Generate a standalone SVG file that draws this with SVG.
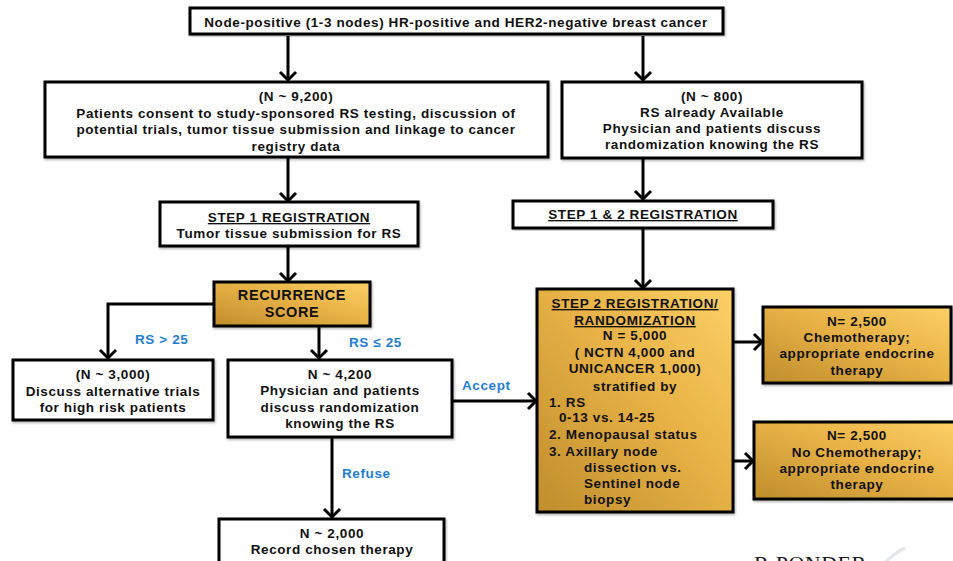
<svg xmlns="http://www.w3.org/2000/svg" width="953" height="561" viewBox="0 0 953 561">
<style>
text{font-family:"Liberation Sans",Arial,sans-serif;font-weight:bold;font-size:13.5px;letter-spacing:0.6px;fill:#111;text-anchor:middle}
.l{text-anchor:start}
.lab{fill:#1f7dd0;text-anchor:start}
.box{fill:#fff;stroke:#000;stroke-width:3}
.gold{fill:url(#g);stroke:#000;stroke-width:3}
.c{fill:none;stroke:#000;stroke-width:3}
.u{text-decoration:underline}
.big{font-size:14.5px}
</style>
<defs>
<linearGradient id="g" x1="0" y1="1" x2="1" y2="0">
<stop offset="0" stop-color="#bf8d2c"/>
<stop offset="0.55" stop-color="#e8b246"/>
<stop offset="1" stop-color="#fdd065"/>
</linearGradient>
<marker id="a" markerUnits="userSpaceOnUse" markerWidth="20" markerHeight="20" viewBox="0 0 20 20" refX="17" refY="10" orient="auto">
<path d="M9,2 L17,10 L9,18" fill="none" stroke="#000" stroke-width="3"/>
</marker>
<filter id="sh" x="-5%" y="-5%" width="110%" height="115%">
<feDropShadow dx="1" dy="1.5" stdDeviation="1" flood-color="#000" flood-opacity="0.3"/>
</filter>
</defs>

<g id="connectors">
<path class="c" d="M288,36 V80" marker-end="url(#a)"/>
<path class="c" d="M643,36 V80" marker-end="url(#a)"/>
<path class="c" d="M288,157 V201" marker-end="url(#a)"/>
<path class="c" d="M643,158 V199" marker-end="url(#a)"/>
<path class="c" d="M288,246 V281" marker-end="url(#a)"/>
<path class="c" d="M643,229 V288" marker-end="url(#a)"/>
<path class="c" d="M214,304 H108 V358" marker-end="url(#a)"/>
<path class="c" d="M319,327 V358" marker-end="url(#a)"/>
<path class="c" d="M452,401 H536" marker-end="url(#a)"/>
<path class="c" d="M332,437 V517" marker-end="url(#a)"/>
<path class="c" d="M733,342 H762" marker-end="url(#a)"/>
<path class="c" d="M733,461 H753" marker-end="url(#a)"/>
<text class="lab" x="135" y="344">RS &gt; 25</text>
<text class="lab" x="349" y="347">RS ≤ 25</text>
<text class="lab" x="462" y="390">Accept</text>
<text class="lab" x="342" y="478">Refuse</text>
</g>

<g id="n-top">
<rect class="box" x="190" y="8" width="533" height="26" filter="url(#sh)"/>
<text x="456" y="27">Node-positive (1-3 nodes) HR-positive and HER2-negative breast cancer</text>
</g>

<g id="n-9200">
<rect class="box" x="45" y="82" width="503" height="75" filter="url(#sh)"/>
<text x="296" y="101">(N ~ 9,200)</text>
<text x="296" y="118">Patients consent to study-sponsored RS testing, discussion of</text>
<text x="296" y="134">potential trials, tumor tissue submission and  linkage to cancer</text>
<text x="296" y="151">registry data</text>
</g>

<g id="n-800">
<rect class="box" x="562" y="82" width="300" height="76" filter="url(#sh)"/>
<text x="712" y="101">(N ~ 800)</text>
<text x="712" y="117">RS already Available</text>
<text x="712" y="133">Physician and patients discuss</text>
<text x="712" y="149">randomization knowing the RS</text>
</g>

<g id="n-step1">
<rect class="box" x="160" y="202" width="258" height="44" filter="url(#sh)"/>
<text x="289" y="222" class="u">STEP 1 REGISTRATION</text>
<text x="289" y="238">Tumor tissue submission for RS</text>
</g>

<g id="n-step12">
<rect class="box" x="513" y="201" width="260" height="27" filter="url(#sh)"/>
<text x="643" y="219" class="u">STEP 1 &amp; 2 REGISTRATION</text>
</g>

<g id="n-rs">
<rect class="gold" x="214" y="282" width="156" height="44" filter="url(#sh)"/>
<text class="big" x="292" y="300">RECURRENCE</text>
<text class="big" x="292" y="317">SCORE</text>
</g>

<g id="n-3000">
<rect class="box" x="13" y="360" width="200" height="60" filter="url(#sh)"/>
<text x="113" y="379">(N ~ 3,000)</text>
<text x="113" y="396">Discuss alternative  trials</text>
<text x="113" y="412">for high risk patients</text>
</g>

<g id="n-4200">
<rect class="box" x="228" y="360" width="224" height="77" filter="url(#sh)"/>
<text x="340" y="379">N ~ 4,200</text>
<text x="340" y="395">Physician and patients</text>
<text x="340" y="412">discuss randomization</text>
<text x="340" y="428">knowing the RS</text>
</g>

<g id="n-2000">
<rect class="box" x="219" y="519" width="225" height="50" filter="url(#sh)"/>
<text x="332" y="538">N ~ 2,000</text>
<text x="332" y="554">Record chosen therapy</text>
</g>

<g id="n-step2">
<rect class="gold" x="537" y="289" width="196" height="223" filter="url(#sh)"/>
<text x="635" y="308" class="u">STEP 2 REGISTRATION/</text>
<text x="635" y="325" class="u">RANDOMIZATION</text>
<text x="635" y="340">N = 5,000</text>
<text x="635" y="357">( NCTN 4,000 and</text>
<text x="635" y="373">UNICANCER 1,000)</text>
<text x="635" y="391">stratified by</text>
<text class="l" x="549" y="407">1. RS</text>
<text class="l" x="559" y="422">0-13 vs. 14-25</text>
<text class="l" x="549" y="439">2. Menopausal status</text>
<text class="l" x="549" y="456">3. Axillary  node</text>
<text class="l" x="584" y="472">dissection vs.</text>
<text class="l" x="584" y="488">Sentinel node</text>
<text class="l" x="584" y="504">biopsy</text>
</g>

<g id="n-chemo">
<rect class="gold" x="763" y="307" width="188" height="76" filter="url(#sh)"/>
<text x="857" y="326">N= 2,500</text>
<text x="857" y="342">Chemotherapy;</text>
<text x="857" y="358">appropriate endocrine</text>
<text x="857" y="375">therapy</text>
</g>

<g id="n-nochemo">
<rect class="gold" x="754" y="422" width="202" height="77" filter="url(#sh)"/>
<text x="857" y="440">N= 2,500</text>
<text x="857" y="457">No Chemotherapy;</text>
<text x="857" y="473">appropriate endocrine</text>
<text x="857" y="489">therapy</text>
</g>

<g id="logo">
<path d="M877,570 Q895,552 905,548" fill="none" stroke="#e4e6ea" stroke-width="3"/>
<text class="l" x="754" y="571" style="font-family:'Liberation Serif',serif;font-size:22px;fill:#1a1a1a;font-weight:normal;letter-spacing:0.5px">R<tspan font-size="12">x</tspan>PONDER</text>
</g>
</svg>
